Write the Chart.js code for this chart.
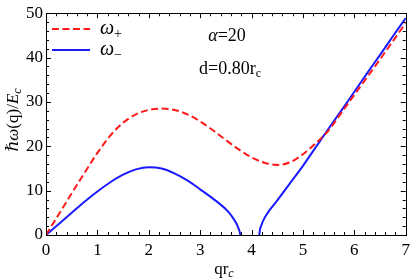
<!DOCTYPE html>
<html>
<head>
<meta charset="utf-8">
<script src="https://cdn.jsdelivr.net/npm/chart.js@4"></script>
<style>
  html, body { margin: 0; padding: 0; background: #fff; overflow: hidden; }
  canvas { display: block; }
</style>
</head>
<body>
<canvas id="c" width="415" height="280" style="width:415px;height:280px"></canvas>
<script>
// ---- data ----
const qPlus = [0, 0.25, 0.5, 0.75, 1, 1.25, 1.5, 1.75, 2, 2.25, 2.5, 2.75, 3, 3.25, 3.5, 3.75, 4, 4.25, 4.5, 4.75, 5, 5.25, 5.5, 5.75, 6, 6.25, 6.5, 6.75, 7];
const omegaPlus = [0, 4.7, 9.4, 14.0, 18.5, 22.4, 25.3, 27.2, 28.2, 28.5, 28.2, 27.2, 25.6, 23.6, 21.4, 19.3, 17.5, 16.3, 15.8, 16.4, 18.2, 20.7, 23.6, 27.6, 31.6, 35.6, 39.6, 43.7, 47.8];
const qMinusLow = [0, 0.25, 0.5, 0.75, 1, 1.25, 1.5, 1.75, 2, 2.25, 2.5, 2.75, 3, 3.25, 3.5, 3.6, 3.7, 3.75, 3.77, 3.78];
const omegaMinusLow = [0, 2.5, 5.0, 7.5, 9.8, 11.9, 13.6, 14.8, 15.3, 15.0, 13.9, 12.3, 10.3, 8.2, 5.8, 4.5, 2.7, 1.4, 0.7, 0];
const qMinusHigh = [4.15, 4.16, 4.19, 4.25, 4.35, 4.5, 4.75, 5, 5.25, 5.5, 5.75, 6, 6.25, 6.5, 6.75, 7];
const omegaMinusHigh = [0, 1.0, 2.2, 3.8, 5.6, 7.8, 11.7, 15.6, 19.8, 24.0, 28.1, 32.3, 36.5, 40.6, 44.8, 48.9];
const xTicks = [0, 1, 2, 3, 4, 5, 6, 7];
const yTicks = [0, 10, 20, 30, 40, 50];
const legendLabels = ['+', '\u2212'];
const annotD = 'd=0.80r';

const pts = (xs, ys) => xs.map((x, i) => ({ x: x, y: ys[i] }));
const SERIF = '"Liberation Serif", "DejaVu Serif", serif';
const RED = '#ff1a1a';
const BLUE = '#1a1aff';

const decor = {
  id: 'decor',
  afterDraw(chart) {
    const ctx = chart.ctx;
    const a = chart.chartArea;
    const xs = chart.scales.x, ys = chart.scales.y;
    ctx.save();
    ctx.strokeStyle = '#000';
    ctx.lineWidth = 1;
    ctx.strokeRect(Math.round(a.left) + 0.5, Math.round(a.top) + 0.5, Math.round(a.right - a.left), Math.round(a.bottom - a.top));
    ctx.beginPath();
    for (let i = 0; i <= 35; i++) {
      const v = i * 0.2;
      const px = Math.round(xs.getPixelForValue(v)) + 0.5;
      const len = (i % 5 === 0) ? 5 : 3;
      ctx.moveTo(px, a.bottom); ctx.lineTo(px, a.bottom - len);
      ctx.moveTo(px, a.top); ctx.lineTo(px, a.top + len);
    }
    for (let i = 0; i <= 25; i++) {
      const v = i * 2;
      const py = Math.round(ys.getPixelForValue(v)) + 0.5;
      const len = (i % 5 === 0) ? 5 : 3;
      ctx.moveTo(a.left, py); ctx.lineTo(a.left + len, py);
      ctx.moveTo(a.right, py); ctx.lineTo(a.right - len, py);
    }
    ctx.stroke();

    ctx.fillStyle = '#000';
    ctx.textBaseline = 'alphabetic';
    {
      const f1 = '17px ' + SERIF, f2 = 'italic 12px ' + SERIF;
      ctx.font = f1; const w1 = ctx.measureText('qr').width;
      ctx.font = f2; const w2 = ctx.measureText('c').width;
      const cx = (a.left + a.right) / 2 - 2;
      let x0 = cx - (w1 + w2) / 2;
      ctx.font = f1; ctx.fillText('qr', x0, 274);
      ctx.font = f2; ctx.fillText('c', x0 + w1, 277);
    }
    {
      const parts = [
        { t: '\u210f\u03c9', f: 'italic 17px ' + SERIF, dy: 0 },
        { t: '(q)/', f: '17px ' + SERIF, dy: 0 },
        { t: 'E', f: 'italic 17px ' + SERIF, dy: 0 },
        { t: 'c', f: 'italic 12px ' + SERIF, dy: 3 }
      ];
      let total = 0;
      parts.forEach(p => { ctx.font = p.f; p.w = ctx.measureText(p.t).width; total += p.w; });
      ctx.save();
      ctx.translate(18, 120);
      ctx.rotate(-Math.PI / 2);
      let x = -total / 2;
      parts.forEach(p => { ctx.font = p.f; ctx.fillText(p.t, x, p.dy); x += p.w; });
      ctx.restore();
    }
    const legendY = [29, 50];
    const legendColors = [RED, BLUE];
    const legendDash = [[7, 3.5], []];
    for (let i = 0; i < 2; i++) {
      ctx.save();
      ctx.strokeStyle = legendColors[i];
      ctx.lineWidth = 2;
      ctx.setLineDash(legendDash[i]);
      ctx.beginPath();
      ctx.moveTo(52, legendY[i]); ctx.lineTo(90, legendY[i]);
      ctx.stroke();
      ctx.restore();
      ctx.font = 'italic 20px ' + SERIF;
      ctx.fillText('\u03c9', 100, legendY[i] + 5);
      const ww = ctx.measureText('\u03c9').width;
      ctx.font = '14px ' + SERIF;
      ctx.fillText(legendLabels[i], 100 + ww, legendY[i] + 9);
    }
    {
      ctx.font = 'italic 18px ' + SERIF;
      const wa = ctx.measureText('\u03b1').width;
      ctx.font = '18px ' + SERIF;
      const wb = ctx.measureText('=20').width;
      const x0 = 227 - (wa + wb) / 2;
      ctx.font = 'italic 18px ' + SERIF; ctx.fillText('\u03b1', x0, 41);
      ctx.font = '18px ' + SERIF; ctx.fillText('=20', x0 + wa, 41);
      ctx.font = '18px ' + SERIF;
      const w1 = ctx.measureText(annotD).width;
      ctx.font = '12px ' + SERIF;
      const w2 = ctx.measureText('c').width;
      const x1 = 230 - (w1 + w2) / 2;
      ctx.font = '18px ' + SERIF; ctx.fillText(annotD, x1, 74);
      ctx.font = '12px ' + SERIF; ctx.fillText('c', x1 + w1, 77);
    }
    ctx.restore();
  }
};

new Chart(document.getElementById('c'), {
  type: 'line',
  data: {
    datasets: [
      { label: '\u03c9+', data: pts(qPlus, omegaPlus), borderColor: RED, borderWidth: 2, borderDash: [7, 3.5], pointRadius: 0, cubicInterpolationMode: 'monotone', fill: false },
      { label: '\u03c9\u2212', data: pts(qMinusLow, omegaMinusLow), borderColor: BLUE, borderWidth: 2, pointRadius: 0, cubicInterpolationMode: 'monotone', fill: false },
      { label: '\u03c9\u2212 (b)', data: pts(qMinusHigh, omegaMinusHigh), borderColor: BLUE, borderWidth: 2, pointRadius: 0, cubicInterpolationMode: 'monotone', fill: false }
    ]
  },
  options: {
    responsive: false,
    animation: false,
    devicePixelRatio: 1,
    layout: { padding: { top: 10, right: 6, left: 0, bottom: 0 } },
    plugins: { legend: { display: false }, tooltip: { enabled: false } },
    scales: {
      x: {
        type: 'linear', min: 0, max: 7,
        grid: { display: false, drawTicks: false },
        border: { display: false },
        afterFit: s => { s.height = 45; },
        afterBuildTicks: s => { s.ticks = xTicks.map(v => ({ value: v })); },
        ticks: { color: '#000', padding: 5, font: { family: SERIF, size: 17 }, maxRotation: 0, autoSkip: false }
      },
      y: {
        min: 0, max: 50,
        grid: { display: false, drawTicks: false },
        border: { display: false },
        afterFit: s => { s.width = 46; },
        afterBuildTicks: s => { s.ticks = yTicks.map(v => ({ value: v })); },
        ticks: { color: '#000', padding: 3, font: { family: SERIF, size: 17 }, autoSkip: false }
      }
    }
  },
  plugins: [decor]
});
</script>
</body>
</html>
